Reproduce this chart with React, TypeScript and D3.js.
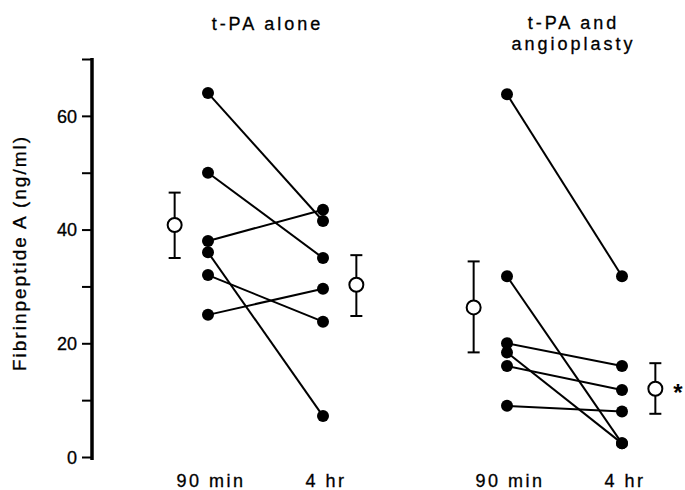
import React, { useRef, useEffect } from "react";
import * as d3 from "d3";

// individual patients, 90 min vs 4 hr (ng/ml)
const alone90 = [64, 50, 38, 36, 32, 25];
const alone4h = [41.5, 35, 43.5, 7.2, 23.8, 29.6];
const angio90 = [63.8, 31.8, 20, 18.4, 16, 9];
const angio4h = [31.8, 2.4, 16, 2.4, 11.8, 8];

// group means with error bar ends
const alone90Mean = [40.8, 35, 46.5];
const alone4hMean = [30.3, 24.8, 35.5];
const angio90Mean = [26.3, 18.4, 34.4];
const angio4hMean = [12, 7.6, 16.5];

const timeLabels = ["90 min", "4 hr", "90 min", "4 hr"];
const yTicks = [0, 10, 20, 30, 40, 50, 60, 70];

const App = () => {
    const plot = useRef(null);
    const width = 685;
    const height = 490;

    useEffect(() => {
        const svg = d3.select(plot.current);
        svg.selectAll("*").remove();

        const font = "'Liberation Sans', Arial, sans-serif";

        // x positions: 0 and 1 for t-PA alone, 2.6 and 3.6 for angioplasty
        const x = d3.scaleLinear().domain([0, 3.6]).range([208, 622]);
        const y = d3.scaleLinear().domain([0, 70]).range([457, 59]);
        const meanOff = 0.29;

        // y axis
        const yAxis = d3.axisLeft(y)
            .tickValues(yTicks)
            .tickSize(10)
            .tickPadding(5)
            .tickFormat(d => (d % 20 === 0 ? String(d) : ""));
        svg.append("g")
            .attr("transform", "translate(92,0)")
            .call(yAxis)
            .call(g => g.select(".domain").attr("stroke-width", 3.5).attr("d", `M0,${y(70) - 1}V${y(0) + 3}`))
            .call(g => g.selectAll(".tick line").attr("stroke-width", 2))
            .call(g => g.selectAll(".tick text")
                .attr("font-size", 18)
                .attr("font-family", font)
                .attr("fill", "#000")
                .attr("stroke", "#000")
                .attr("stroke-width", 0.3)
                .attr("dy", "0.35em"));

        const label = (sel) => sel
            .attr("font-family", font)
            .attr("stroke", "#000")
            .attr("stroke-width", 0.3);

        svg.append("text")
            .attr("transform", `translate(26,253) rotate(-90)`)
            .attr("text-anchor", "middle")
            .attr("font-size", 19)
            .attr("letter-spacing", 2)
            .call(label)
            .text("Fibrinpeptide A (ng/ml)");

        // connecting lines + dots
        const groups = [
            { a: alone90, b: alone4h, x0: 0, x1: 1 },
            { a: angio90, b: angio4h, x0: 2.6, x1: 3.6 },
        ];
        groups.forEach(gr => {
            const pairs = gr.a.map((v, i) => [v, gr.b[i]]);
            const g = svg.append("g");
            g.selectAll("line")
                .data(pairs)
                .join("line")
                .attr("x1", x(gr.x0))
                .attr("x2", x(gr.x1))
                .attr("y1", d => y(d[0]))
                .attr("y2", d => y(d[1]))
                .attr("stroke", "#000")
                .attr("stroke-width", 2);
            g.selectAll("circle.a")
                .data(gr.a)
                .join("circle")
                .attr("class", "a")
                .attr("cx", x(gr.x0))
                .attr("cy", d => y(d))
                .attr("r", 6);
            g.selectAll("circle.b")
                .data(gr.b)
                .join("circle")
                .attr("class", "b")
                .attr("cx", x(gr.x1))
                .attr("cy", d => y(d))
                .attr("r", 6);
        });

        // means with error bars
        const means = [
            { m: alone90Mean, pos: 0 - meanOff },
            { m: alone4hMean, pos: 1 + meanOff },
            { m: angio90Mean, pos: 2.6 - meanOff },
            { m: angio4hMean, pos: 3.6 + meanOff },
        ];
        const mg = svg.append("g").attr("stroke", "#000").attr("stroke-width", 2);
        means.forEach(d => {
            const cx = x(d.pos);
            mg.append("line").attr("x1", cx).attr("x2", cx).attr("y1", y(d.m[1])).attr("y2", y(d.m[2]));
            mg.append("line").attr("x1", cx - 6).attr("x2", cx + 6).attr("y1", y(d.m[1])).attr("y2", y(d.m[1]));
            mg.append("line").attr("x1", cx - 6).attr("x2", cx + 6).attr("y1", y(d.m[2])).attr("y2", y(d.m[2]));
            mg.append("circle").attr("cx", cx).attr("cy", y(d.m[0])).attr("r", 7).attr("fill", "#fff");
        });

        svg.append("text")
            .attr("x", x(3.6 + meanOff) + 18)
            .attr("y", y(angio4hMean[0]) + 12)
            .attr("font-size", 24)
            .attr("font-weight", "bold")
            .attr("font-family", font)
            .text("*");

        // x labels
        svg.append("g")
            .selectAll("text")
            .data(timeLabels)
            .join("text")
            .attr("x", (d, i) => x([0, 1, 2.6, 3.6][i]) + 3)
            .attr("y", 487)
            .attr("text-anchor", "middle")
            .attr("font-size", 18)
            .attr("letter-spacing", 2.5)
            .call(label)
            .text(d => d);

        // group titles
        svg.append("text")
            .attr("x", x(0.5) + 2)
            .attr("y", 30)
            .attr("text-anchor", "middle")
            .attr("font-size", 18)
            .attr("letter-spacing", 3)
            .call(label)
            .text("t-PA alone");
        const t2 = svg.append("text")
            .attr("text-anchor", "middle")
            .attr("font-size", 18)
            .attr("letter-spacing", 3)
            .call(label);
        t2.append("tspan").attr("x", x(3.1) + 9).attr("y", 29).text("t-PA and");
        t2.append("tspan").attr("x", x(3.1) + 9).attr("y", 50).text("angioplasty");
    });

    return (
        <svg ref={plot} width={width} height={height} style={{ position: "absolute", left: 0, top: 0, background: "#fff" }} />
    );
};

export default App;
